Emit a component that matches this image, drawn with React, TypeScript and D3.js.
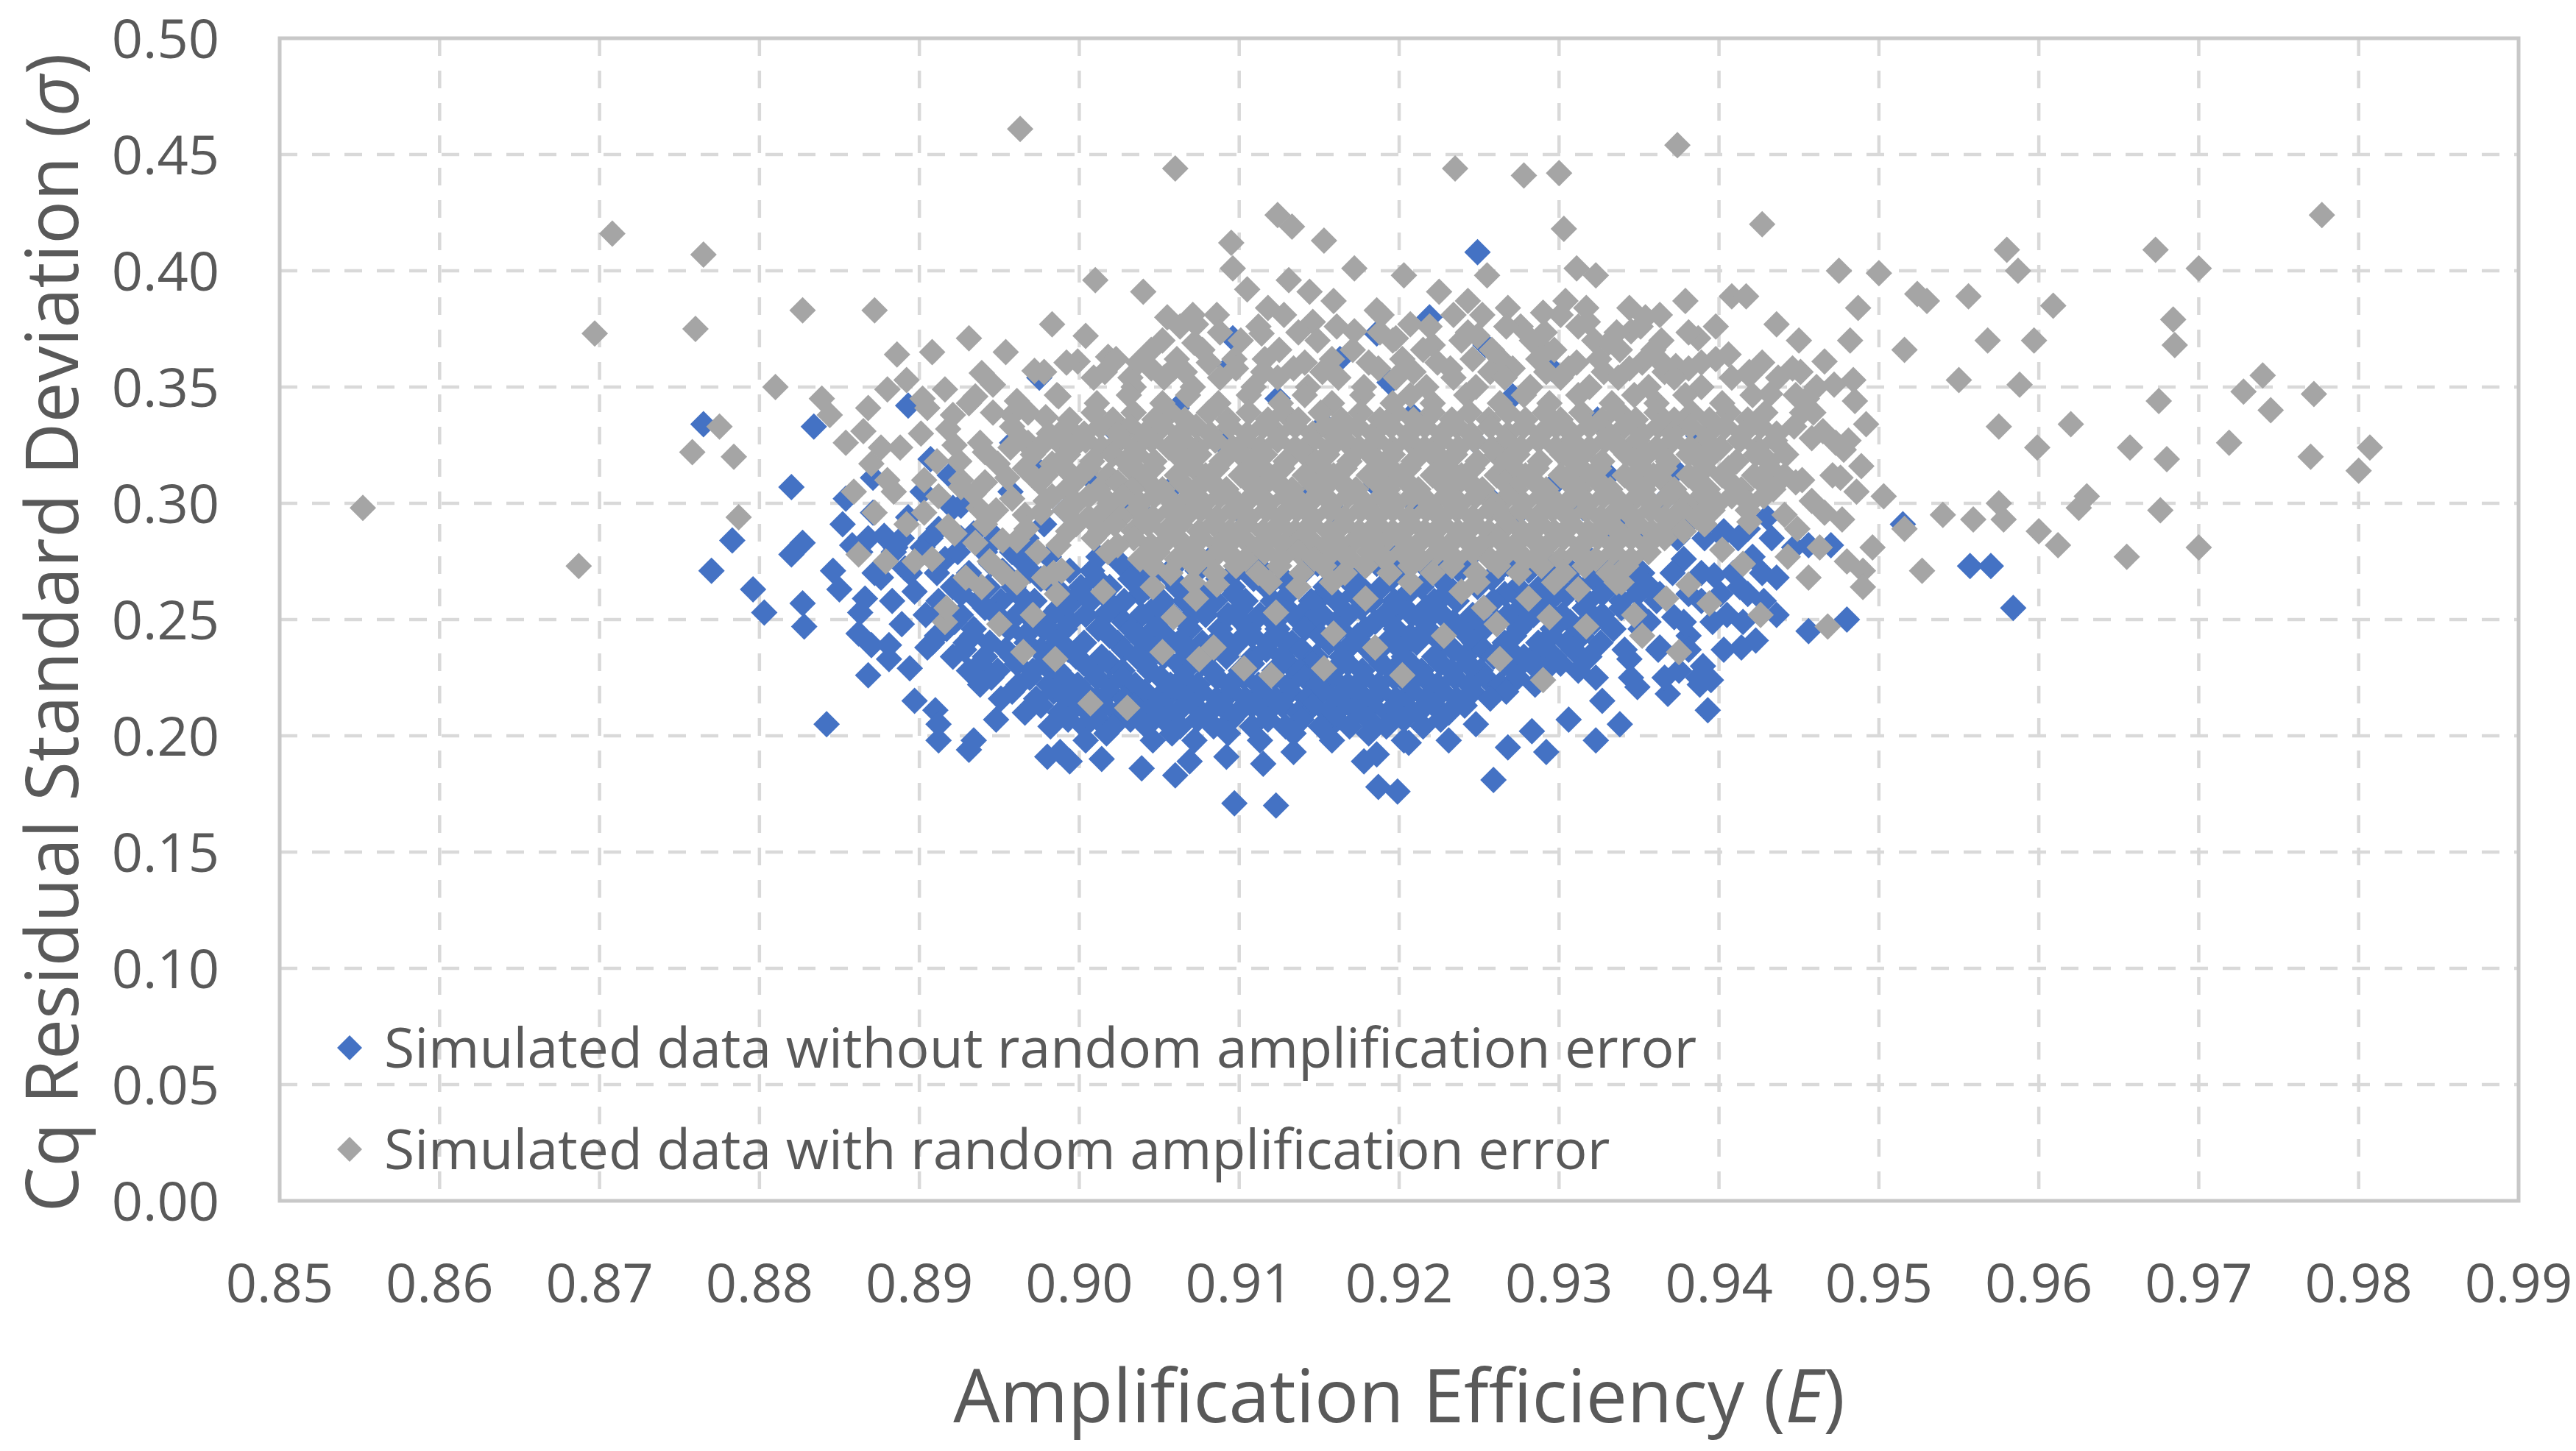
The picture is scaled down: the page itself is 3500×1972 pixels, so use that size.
import React, { useEffect, useRef } from 'react';
import * as d3 from 'd3';

// [efficiency, sigma] pairs (scattered parts)
const withoutError: [number, number][] = [
  [0.8765, 0.334], [0.877, 0.271], [0.8783, 0.284], [0.8796, 0.263], [0.8803, 0.253],
  [0.882, 0.307], [0.882, 0.278], [0.8827, 0.283], [0.8827, 0.257], [0.8828, 0.247],
  [0.8834, 0.333], [0.8842, 0.205], [0.8846, 0.271], [0.885, 0.263], [0.8854, 0.302],
  [0.8862, 0.244], [0.887, 0.239], [0.8881, 0.233], [0.8893, 0.342], [0.891, 0.211],
  [0.8912, 0.198], [0.8931, 0.194], [0.8975, 0.354], [0.898, 0.191], [0.8994, 0.189],
  [0.9014, 0.19], [0.906, 0.183], [0.9097, 0.171], [0.9123, 0.17], [0.9092, 0.191],
  [0.9115, 0.188], [0.9187, 0.178], [0.9199, 0.176], [0.9186, 0.192], [0.9206, 0.197],
  [0.9259, 0.181], [0.9268, 0.195], [0.9292, 0.193], [0.9323, 0.198], [0.9338, 0.205],
  [0.9393, 0.211], [0.9388, 0.222], [0.939, 0.23], [0.9249, 0.408], [0.9219, 0.38],
  [0.9186, 0.373], [0.9094, 0.359], [0.948, 0.25], [0.9456, 0.245], [0.9456, 0.282],
  [0.947, 0.282], [0.9515, 0.291], [0.9557, 0.273], [0.957, 0.273], [0.9584, 0.255],
  [0.943, 0.294], [0.9418, 0.289], [0.9403, 0.288],
  [0.8876, 0.268], [0.8885, 0.281], [0.8893, 0.294], [0.8871, 0.296], [0.8902, 0.305],
  [0.8919, 0.312], [0.8912, 0.289], [0.8926, 0.299], [0.8957, 0.305], [0.8975, 0.314],
  [0.8991, 0.297], [0.9007, 0.311], [0.9028, 0.302], [0.9044, 0.293], [0.9061, 0.309],
  [0.9098, 0.298], [0.9117, 0.311], [0.9142, 0.303], [0.9161, 0.296], [0.9185, 0.308],
  [0.9211, 0.299], [0.9233, 0.311], [0.9257, 0.302], [0.9275, 0.296], [0.9298, 0.309],
  [0.9315, 0.298], [0.9331, 0.312], [0.9352, 0.321], [0.9373, 0.314], [0.9247, 0.327],
  [0.9208, 0.338], [0.9153, 0.334], [0.9088, 0.327], [0.9022, 0.331], [0.8958, 0.326],
  [0.8907, 0.319], [0.9271, 0.346], [0.9194, 0.352], [0.9124, 0.345], [0.9061, 0.341],
  [0.9324, 0.336], [0.9387, 0.329], [0.9295, 0.358], [0.9254, 0.368], [0.9163, 0.362],
  [0.9096, 0.371], [0.8863, 0.253], [0.8881, 0.239], [0.8868, 0.226], [0.8897, 0.215],
  [0.8912, 0.205], [0.8934, 0.198], [0.8948, 0.207], [0.8988, 0.193], [0.9039, 0.186],
  [0.9069, 0.189], [0.9134, 0.193], [0.9178, 0.189], [0.9231, 0.198], [0.9248, 0.205],
  [0.9283, 0.202], [0.9306, 0.207], [0.9327, 0.215], [0.9349, 0.221], [0.9375, 0.228],
  [0.9423, 0.241], [0.9436, 0.252], [0.9341, 0.272], [0.9358, 0.263], [0.9372, 0.251],
  [0.9381, 0.243], [0.9389, 0.258], [0.9397, 0.269], [0.9378, 0.276], [0.9405, 0.252],
  [0.9413, 0.264], [0.9421, 0.277], [0.9402, 0.286], [0.9384, 0.294], [0.9365, 0.301],
  [0.9344, 0.293], [0.9428, 0.258], [0.9436, 0.268], [0.9447, 0.281], [0.9414, 0.238],
  [0.9395, 0.224], [0.9368, 0.218], [0.9363, 0.238], [0.9351, 0.246], [0.9344, 0.233],
  [0.8883, 0.258], [0.8891, 0.272], [0.8878, 0.286], [0.8902, 0.281], [0.8897, 0.262],
  [0.8889, 0.248], [0.8905, 0.238], [0.8871, 0.311], [0.8894, 0.229], [0.8916, 0.276],
  [0.8934, 0.287], [0.8945, 0.274], [0.8921, 0.298], [0.8961, 0.281], [0.8978, 0.291],
  [0.8858, 0.282], [0.8852, 0.291], [0.8866, 0.259],
];

// dense blue cloud: [sigma, efficiencies...] rows
const withoutErrorRows: [number, number[]][] = [
  [0.285, [0.8868, 0.8889, 0.8907, 0.8926, 0.8948, 0.8967, 0.9335, 0.9356, 0.9374, 0.9391, 0.9412, 0.9433]],
  [0.279, [0.8863, 0.8884, 0.8903, 0.8924, 0.8941, 0.8958]],
  [0.277, [0.8981, 0.9012, 0.9044, 0.9083, 0.9127, 0.9165, 0.9198, 0.9244, 0.9289, 0.9318]],
  [0.274, [0.8966, 0.9026, 0.9061, 0.9108, 0.9149, 0.9186, 0.9227, 0.9268, 0.9301, 0.9334]],
  [0.271, [0.8952, 0.8969, 0.8994, 0.9008, 0.9037, 0.9049, 0.9074, 0.9098, 0.9115, 0.9141, 0.9158, 0.9172, 0.9201, 0.9219, 0.9238, 0.9262, 0.9281, 0.9307, 0.9322, 0.9347]],
  [0.27, [0.8872, 0.8894, 0.8911, 0.8931, 0.9352, 0.9371, 0.9389, 0.9409, 0.9427]],
  [0.2675, [0.8932, 0.8976, 0.9011, 0.9032, 0.9058, 0.9087, 0.9109, 0.9128, 0.9167, 0.9195, 0.9226, 0.9258, 0.9296, 0.9322, 0.9343]],
  [0.264, [0.8921, 0.8943, 0.8959, 0.8985, 0.9001, 0.9019, 0.9043, 0.9061, 0.9072, 0.9096, 0.9117, 0.9132, 0.9154, 0.9176, 0.9189, 0.9214, 0.9231, 0.9249, 0.9274, 0.9288, 0.9312, 0.9331, 0.9356]],
  [0.261, [0.8926, 0.8962, 0.8989, 0.9015, 0.9038, 0.9078, 0.9097, 0.9131, 0.9153, 0.9172, 0.9205, 0.9229, 0.9266, 0.9284, 0.9305, 0.9327, 0.9349, 0.9363, 0.9381, 0.9401, 0.9418]],
  [0.258, [0.8912, 0.8937, 0.8951, 0.8972, 0.8996, 0.9007, 0.9028, 0.9052, 0.9066, 0.9085, 0.9104, 0.9121, 0.9145, 0.9161, 0.9183, 0.9197, 0.9222, 0.9236, 0.9259, 0.9277, 0.9294, 0.9318, 0.9339, 0.9361]],
  [0.255, [0.8915, 0.8941, 0.8967, 0.8987, 0.9022, 0.9047, 0.9072, 0.9101, 0.9124, 0.9143, 0.9176, 0.9201, 0.9217, 0.9253, 0.9276, 0.9291, 0.9316, 0.9339]],
  [0.252, [0.8904, 0.8926, 0.8948, 0.8961, 0.8983, 0.9004, 0.9016, 0.9039, 0.9058, 0.9079, 0.9093, 0.9113, 0.9134, 0.9152, 0.9168, 0.9191, 0.9208, 0.9227, 0.9246, 0.9268, 0.9284, 0.9302, 0.9327, 0.9351]],
  [0.249, [0.8922, 0.8953, 0.8972, 0.8994, 0.9028, 0.9049, 0.9067, 0.9102, 0.9122, 0.9144, 0.9161, 0.9185, 0.9216, 0.9234, 0.9261, 0.9279, 0.9307, 0.9322, 0.9356, 0.9378, 0.9396, 0.9415]],
  [0.246, [0.8917, 0.8934, 0.8956, 0.8978, 0.8991, 0.9012, 0.9033, 0.9047, 0.9069, 0.9088, 0.9106, 0.9124, 0.9141, 0.9163, 0.9179, 0.9198, 0.9217, 0.9239, 0.9253, 0.9275, 0.9296, 0.9313, 0.9334]],
  [0.243, [0.8911, 0.8933, 0.8966, 0.8985, 0.9019, 0.9036, 0.9054, 0.9089, 0.9108, 0.9125, 0.9151, 0.9174, 0.9207, 0.9222, 0.9243, 0.9272, 0.9295, 0.9314]],
  [0.24, [0.8908, 0.8929, 0.8944, 0.8967, 0.8986, 0.9003, 0.9024, 0.9041, 0.9062, 0.9077, 0.9099, 0.9118, 0.9133, 0.9156, 0.9171, 0.9192, 0.9211, 0.9229, 0.9247, 0.9266, 0.9287, 0.9305, 0.9326]],
  [0.237, [0.8928, 0.8954, 0.8976, 0.8993, 0.9028, 0.9047, 0.9069, 0.9084, 0.9117, 0.9139, 0.9167, 0.9181, 0.9201, 0.9234, 0.9253, 0.9269, 0.9288, 0.9309, 0.9341, 0.9362, 0.9381, 0.9403]],
  [0.234, [0.8921, 0.8941, 0.8958, 0.8979, 0.8998, 0.9014, 0.9036, 0.9053, 0.9071, 0.9092, 0.9109, 0.9127, 0.9148, 0.9164, 0.9185, 0.9203, 0.9222, 0.9241, 0.9259, 0.9278, 0.9297, 0.9319]],
  [0.231, [0.8938, 0.8961, 0.8978, 0.9003, 0.9019, 0.9041, 0.9062, 0.9077, 0.9108, 0.9131, 0.9146, 0.9168, 0.9189, 0.9207, 0.9226, 0.9243, 0.9266, 0.9283, 0.9301]],
  [0.228, [0.8931, 0.8949, 0.8971, 0.8987, 0.9008, 0.9027, 0.9044, 0.9066, 0.9083, 0.9101, 0.9122, 0.9138, 0.9159, 0.9177, 0.9196, 0.9214, 0.9233, 0.9251, 0.9272, 0.9291, 0.9312]],
  [0.225, [0.8945, 0.8969, 0.8991, 0.9011, 0.9027, 0.9051, 0.9065, 0.9086, 0.9103, 0.9122, 0.9141, 0.9158, 0.9178, 0.9197, 0.9216, 0.9235, 0.9254, 0.9274, 0.9323, 0.9345, 0.9366, 0.9387]],
  [0.222, [0.8938, 0.8962, 0.8981, 0.8999, 0.9019, 0.9035, 0.9057, 0.9074, 0.9094, 0.9112, 0.9131, 0.9149, 0.9168, 0.9187, 0.9206, 0.9224, 0.9244, 0.9263, 0.9285]],
  [0.219, [0.8958, 0.8984, 0.9003, 0.9019, 0.9041, 0.9058, 0.9076, 0.9095, 0.9114, 0.9132, 0.9152, 0.9171, 0.9188, 0.9208, 0.9227, 0.9246, 0.9267]],
  [0.216, [0.8951, 0.8973, 0.8992, 0.9011, 0.9028, 0.9049, 0.9067, 0.9086, 0.9104, 0.9123, 0.9142, 0.9161, 0.9179, 0.9198, 0.9217, 0.9236, 0.9257]],
  [0.213, [0.8976, 0.8998, 0.9015, 0.9034, 0.9052, 0.9072, 0.9089, 0.9108, 0.9127, 0.9146, 0.9165, 0.9183, 0.9204, 0.9222, 0.9241]],
  [0.21, [0.8966, 0.8988, 0.9006, 0.9024, 0.9043, 0.9061, 0.9081, 0.9099, 0.9117, 0.9137, 0.9155, 0.9174, 0.9193, 0.9212, 0.9231]],
  [0.207, [0.8993, 0.9012, 0.9032, 0.9053, 0.9074, 0.9095, 0.9118, 0.9139, 0.9161, 0.9181, 0.9203, 0.9226]],
  [0.204, [0.8982, 0.9003, 0.9021, 0.9042, 0.9063, 0.9084, 0.9108, 0.9129, 0.9151, 0.9169, 0.9192, 0.9215]],
  [0.201, [0.9017, 0.9058, 0.9093, 0.9134, 0.9181]],
  [0.198, [0.9004, 0.9046, 0.9072, 0.9113, 0.9158, 0.9203]],
];

const withError: [number, number][] = [
  [0.8552, 0.298], [0.8697, 0.373], [0.8708, 0.416], [0.8687, 0.273], [0.8765, 0.407],
  [0.876, 0.375], [0.8758, 0.322], [0.8775, 0.333], [0.8784, 0.32], [0.8787, 0.294],
  [0.881, 0.35], [0.8827, 0.383], [0.8872, 0.383], [0.8963, 0.461], [0.906, 0.444],
  [0.9235, 0.444], [0.9278, 0.441], [0.93, 0.442], [0.9374, 0.454], [0.9427, 0.42],
  [0.9303, 0.418], [0.958, 0.409], [0.9673, 0.409], [0.9777, 0.424], [0.97, 0.401],
  [0.9609, 0.385], [0.9587, 0.4], [0.9475, 0.4], [0.95, 0.399], [0.9684, 0.379],
  [0.9685, 0.368], [0.9597, 0.37], [0.9675, 0.344], [0.9728, 0.348], [0.974, 0.355],
  [0.9772, 0.347], [0.9745, 0.34], [0.9719, 0.326], [0.9807, 0.324], [0.98, 0.314],
  [0.977, 0.32], [0.968, 0.319], [0.9676, 0.297], [0.97, 0.281], [0.9655, 0.277],
  [0.9657, 0.324], [0.963, 0.303], [0.9625, 0.298], [0.9612, 0.282], [0.96, 0.288],
  [0.962, 0.334], [0.9599, 0.324], [0.9575, 0.333], [0.9588, 0.351], [0.9568, 0.37],
  [0.9556, 0.389], [0.9524, 0.39], [0.9516, 0.366], [0.953, 0.387], [0.955, 0.353],
  [0.9575, 0.3], [0.9578, 0.293], [0.9559, 0.293], [0.954, 0.295], [0.9527, 0.271],
  [0.9503, 0.303], [0.9516, 0.289], [0.9496, 0.281], [0.949, 0.271], [0.9489, 0.316],
  [0.9473, 0.326], [0.9468, 0.247], [0.949, 0.264], [0.948, 0.275],
  [0.9007, 0.214], [0.903, 0.212], [0.9202, 0.226], [0.9228, 0.243], [0.9263, 0.233],
  [0.929, 0.224], [0.9317, 0.247], [0.9352, 0.243], [0.9375, 0.236], [0.912, 0.226],
  [0.9153, 0.229], [0.9075, 0.233], [0.9103, 0.229], [0.895, 0.248], [0.8916, 0.249],
  [0.8939, 0.264], [0.8978, 0.268], [0.8985, 0.233],
  [0.8886, 0.364], [0.8908, 0.365], [0.8931, 0.371], [0.8954, 0.365], [0.8983, 0.377],
  [0.901, 0.396], [0.904, 0.391], [0.9055, 0.38], [0.9073, 0.377], [0.9095, 0.412],
  [0.9096, 0.401], [0.9114, 0.373], [0.9124, 0.424], [0.9133, 0.419], [0.9153, 0.413],
  [0.9144, 0.391], [0.9172, 0.401], [0.9203, 0.398], [0.9225, 0.391], [0.9243, 0.387],
  [0.9255, 0.398], [0.9268, 0.384], [0.929, 0.382], [0.9311, 0.401], [0.9323, 0.398],
  [0.9317, 0.384], [0.9344, 0.384], [0.9354, 0.38], [0.9379, 0.387], [0.9408, 0.389],
  [0.9417, 0.389], [0.9436, 0.377], [0.945, 0.37], [0.9466, 0.361], [0.9482, 0.37],
  [0.9487, 0.384], [0.9455, 0.345],
  [0.8839, 0.345], [0.8844, 0.338], [0.8854, 0.326], [0.8865, 0.331], [0.887, 0.317],
  [0.888, 0.31], [0.8872, 0.296], [0.888, 0.349], [0.8888, 0.324], [0.8901, 0.33],
  [0.8859, 0.305], [0.8892, 0.291], [0.8897, 0.275], [0.8862, 0.278], [0.8926, 0.31],
  [0.8916, 0.349], [0.8939, 0.356],
  [0.8892, 0.353], [0.8905, 0.341], [0.8918, 0.332], [0.8931, 0.343], [0.8946, 0.351],
  [0.8958, 0.338], [0.8972, 0.357], [0.8987, 0.346], [0.8999, 0.361], [0.8911, 0.318],
  [0.8926, 0.307], [0.8941, 0.322], [0.8955, 0.311], [0.8968, 0.326], [0.8983, 0.317],
  [0.8995, 0.331], [0.8903, 0.296], [0.8922, 0.287], [0.8937, 0.298], [0.8952, 0.284],
  [0.8966, 0.295], [0.8979, 0.301], [0.8993, 0.288], [0.8908, 0.276], [0.8929, 0.268],
  [0.8944, 0.275], [0.8961, 0.266], [0.8974, 0.279], [0.8989, 0.271], [0.8917, 0.255],
  [0.8971, 0.252], [0.8986, 0.261], [0.8965, 0.236], [0.8876, 0.324], [0.8868, 0.341],
  [0.8884, 0.305], [0.8879, 0.275], [0.8912, 0.303], [0.8934, 0.304], [0.8958, 0.302],
  [0.8918, 0.29], [0.8941, 0.291], [0.8967, 0.289], [0.8925, 0.318], [0.8949, 0.317],
  [0.8902, 0.345], [0.8935, 0.346], [0.8961, 0.344],
  [0.8935, 0.283], [0.8961, 0.284], [0.8987, 0.282], [0.8948, 0.297], [0.8976, 0.296],
  [0.8903, 0.31], [0.8941, 0.309], [0.8972, 0.311], [0.8922, 0.325], [0.8938, 0.326],
  [0.8957, 0.324], [0.8921, 0.338], [0.8946, 0.339], [0.8979, 0.337], [0.8952, 0.27],
  [0.8984, 0.27],
  [0.9004, 0.372], [0.9018, 0.363], [0.9032, 0.354], [0.9045, 0.366], [0.9059, 0.358],
  [0.9072, 0.369], [0.9086, 0.381], [0.9097, 0.362], [0.9105, 0.392], [0.9118, 0.384],
  [0.9131, 0.396], [0.9146, 0.378], [0.9159, 0.387], [0.9172, 0.374], [0.9186, 0.383],
  [0.9198, 0.371], [0.9207, 0.377], [0.9221, 0.368], [0.9234, 0.381], [0.9249, 0.372],
  [0.9262, 0.363], [0.9276, 0.376], [0.9289, 0.367], [0.9304, 0.387], [0.9318, 0.378],
  [0.9331, 0.369], [0.9345, 0.374], [0.9359, 0.366], [0.9373, 0.359], [0.9387, 0.371],
  [0.9406, 0.364], [0.9419, 0.355], [0.9432, 0.347], [0.9446, 0.358], [0.9459, 0.339],
  [0.9472, 0.351], [0.9485, 0.344], [0.9465, 0.331], [0.9478, 0.323], [0.9492, 0.334],
  [0.9458, 0.301], [0.9471, 0.312], [0.9486, 0.305], [0.9449, 0.289], [0.9463, 0.281],
  [0.9477, 0.293], [0.9415, 0.274], [0.9443, 0.277], [0.9456, 0.268], [0.9426, 0.252],
  [0.9461, 0.35], [0.9484, 0.353], [0.9458, 0.328], [0.9481, 0.327], [0.9452, 0.31],
  [0.9476, 0.311], [0.9441, 0.295], [0.9466, 0.296],
  [0.9015, 0.262], [0.9046, 0.264], [0.9059, 0.251], [0.9073, 0.259], [0.9086, 0.265],
  [0.9052, 0.236], [0.9084, 0.238], [0.9123, 0.253], [0.9137, 0.264], [0.9179, 0.259],
  [0.9159, 0.244], [0.9185, 0.238], [0.9239, 0.262], [0.9253, 0.255], [0.9281, 0.259],
  [0.9294, 0.251], [0.9261, 0.248], [0.9312, 0.263], [0.9339, 0.266], [0.9367, 0.259],
  [0.9381, 0.265], [0.9394, 0.257], [0.9347, 0.252], [0.9402, 0.28], [0.9419, 0.292],
];

// dense gray cloud: [sigma, efficiencies...] rows
const withErrorRows: [number, number[]][] = [
  [0.381, [0.9071, 0.9128, 0.9189, 0.9252, 0.9301, 0.9363]],
  [0.376, [0.9063, 0.9112, 0.9161, 0.9219, 0.9267, 0.9312, 0.9351, 0.9398]],
  [0.3735, [0.9088, 0.9137, 0.9188, 0.9243, 0.9291, 0.9336, 0.9381]],
  [0.37, [0.9052, 0.9101, 0.9149, 0.9196, 0.9239, 0.9283, 0.9322, 0.9364]],
  [0.366, [0.9077, 0.9125, 0.9171, 0.9215, 0.9258, 0.9297, 0.9338]],
  [0.362, [0.9023, 0.9061, 0.9116, 0.9158, 0.9202, 0.9246, 0.9287, 0.9325, 0.9362, 0.9398]],
  [0.3605, [0.8992, 0.9037, 0.9081, 0.9141, 0.9181, 0.9224, 0.9263, 0.9311, 0.9352, 0.9389, 0.9427]],
  [0.358, [0.9045, 0.9098, 0.9134, 0.9187, 0.9232, 0.9271, 0.9306, 0.9344, 0.9381]],
  [0.3565, [0.8978, 0.9016, 0.9066, 0.9115, 0.9152, 0.9209, 0.9257, 0.9292, 0.9328, 0.9366, 0.9419, 0.9451]],
  [0.354, [0.9009, 0.9053, 0.9088, 0.9124, 0.9162, 0.9198, 0.9234, 0.9266, 0.9301, 0.9337, 0.9372, 0.9408, 0.9437]],
  [0.35, [0.9034, 0.9071, 0.9109, 0.9143, 0.9178, 0.9217, 0.9248, 0.9282, 0.9319, 0.9356, 0.9389]],
  [0.3465, [0.8986, 0.9031, 0.9068, 0.9106, 0.9141, 0.9177, 0.9207, 0.9242, 0.9278, 0.9312, 0.9347, 0.9379, 0.9421, 0.9448]],
  [0.343, [0.9011, 0.9052, 0.9087, 0.9126, 0.9158, 0.9196, 0.9221, 0.9263, 0.9294, 0.9333, 0.9361, 0.9402]],
  [0.339, [0.8968, 0.9009, 0.9034, 0.9057, 0.9081, 0.9106, 0.9128, 0.9151, 0.9176, 0.9198, 0.9221, 0.9244, 0.9268, 0.9291, 0.9314, 0.9338, 0.9361, 0.9383, 0.9406, 0.9429, 0.9452]],
  [0.336, [0.8994, 0.9021, 0.9047, 0.9066, 0.9093, 0.9118, 0.9137, 0.9164, 0.9188, 0.9209, 0.9233, 0.9256, 0.9279, 0.9301, 0.9327, 0.9348, 0.9372, 0.9394, 0.9418]],
  [0.333, [0.8958, 0.8992, 0.9013, 0.9032, 0.9052, 0.9073, 0.9094, 0.9115, 0.9135, 0.9154, 0.9174, 0.9195, 0.9216, 0.9236, 0.9257, 0.9278, 0.9298, 0.9319, 0.9341, 0.9362, 0.9382, 0.9404, 0.9426, 0.9447]],
  [0.33, [0.8981, 0.9003, 0.9024, 0.9041, 0.9063, 0.9082, 0.9105, 0.9124, 0.9146, 0.9163, 0.9184, 0.9206, 0.9227, 0.9245, 0.9268, 0.9289, 0.9308, 0.9331, 0.9352, 0.9371, 0.9393, 0.9415, 0.9436]],
  [0.327, [0.8965, 0.8986, 0.9004, 0.9025, 0.9045, 0.9065, 0.9085, 0.9104, 0.9124, 0.9146, 0.9166, 0.9186, 0.9206, 0.9226, 0.9247, 0.9267, 0.9287, 0.9308, 0.9329, 0.9349, 0.9371, 0.9392, 0.9413, 0.9435]],
  [0.324, [0.8975, 0.8996, 0.9014, 0.9035, 0.9056, 0.9074, 0.9096, 0.9113, 0.9135, 0.9157, 0.9175, 0.9196, 0.9216, 0.9237, 0.9258, 0.9276, 0.9298, 0.9319, 0.9338, 0.9361, 0.9382, 0.9401, 0.9424]],
  [0.321, [0.8971, 0.8993, 0.9021, 0.9036, 0.9061, 0.9075, 0.9101, 0.9116, 0.9141, 0.9155, 0.9182, 0.9196, 0.9221, 0.9235, 0.9261, 0.9274, 0.9302, 0.9315, 0.9342, 0.9355, 0.9381, 0.9396, 0.9423, 0.9442]],
  [0.318, [0.8988, 0.9008, 0.9029, 0.9047, 0.9068, 0.9089, 0.9108, 0.9129, 0.9148, 0.9169, 0.9187, 0.9209, 0.9228, 0.9249, 0.9267, 0.9288, 0.9309, 0.9327, 0.9349, 0.9368, 0.9389, 0.9411, 0.9431]],
  [0.315, [0.8966, 0.8991, 0.9006, 0.9032, 0.9046, 0.9072, 0.9086, 0.9112, 0.9127, 0.9152, 0.9166, 0.9192, 0.9206, 0.9231, 0.9246, 0.9272, 0.9286, 0.9311, 0.9325, 0.9352, 0.9366, 0.9391, 0.9406, 0.9432]],
  [0.312, [0.8979, 0.9001, 0.9018, 0.9039, 0.9061, 0.9079, 0.9101, 0.9119, 0.9141, 0.9159, 0.9181, 0.9199, 0.9221, 0.9239, 0.9261, 0.9279, 0.9301, 0.9318, 0.9341, 0.9359, 0.9381, 0.9402, 0.9422, 0.9441]],
  [0.309, [0.8975, 0.8997, 0.9024, 0.9043, 0.9064, 0.9083, 0.9106, 0.9124, 0.9145, 0.9164, 0.9186, 0.9205, 0.9226, 0.9244, 0.9266, 0.9285, 0.9306, 0.9325, 0.9346, 0.9366, 0.9386, 0.9407, 0.9427, 0.9448]],
  [0.306, [0.8992, 0.9012, 0.9033, 0.9052, 0.9073, 0.9092, 0.9113, 0.9133, 0.9152, 0.9173, 0.9193, 0.9212, 0.9233, 0.9252, 0.9273, 0.9292, 0.9313, 0.9332, 0.9353, 0.9372, 0.9393, 0.9414, 0.9434]],
  [0.303, [0.8983, 0.9006, 0.9027, 0.9047, 0.9069, 0.9088, 0.9108, 0.9129, 0.9148, 0.9168, 0.9189, 0.9208, 0.9229, 0.9248, 0.9268, 0.9289, 0.9309, 0.9328, 0.9349, 0.9368, 0.9389, 0.9408, 0.9428]],
  [0.3, [0.8998, 0.9019, 0.9038, 0.9059, 0.9078, 0.9099, 0.9118, 0.9139, 0.9158, 0.9179, 0.9198, 0.9219, 0.9238, 0.9259, 0.9278, 0.9299, 0.9318, 0.9339, 0.9358, 0.9379, 0.9399, 0.9419]],
  [0.297, [0.8991, 0.9016, 0.9036, 0.9057, 0.9076, 0.9096, 0.9117, 0.9136, 0.9157, 0.9176, 0.9196, 0.9217, 0.9236, 0.9257, 0.9276, 0.9296, 0.9317, 0.9336, 0.9357, 0.9376, 0.9396, 0.9418]],
  [0.294, [0.9006, 0.9026, 0.9046, 0.9066, 0.9086, 0.9106, 0.9126, 0.9146, 0.9166, 0.9186, 0.9206, 0.9226, 0.9246, 0.9266, 0.9286, 0.9306, 0.9326, 0.9346, 0.9366, 0.9386]],
  [0.291, [0.8998, 0.9022, 0.9043, 0.9063, 0.9084, 0.9104, 0.9125, 0.9145, 0.9165, 0.9186, 0.9207, 0.9227, 0.9247, 0.9268, 0.9288, 0.9308, 0.9329, 0.9349, 0.9369, 0.9391]],
  [0.288, [0.9013, 0.9034, 0.9054, 0.9075, 0.9094, 0.9115, 0.9135, 0.9156, 0.9175, 0.9196, 0.9216, 0.9237, 0.9256, 0.9277, 0.9297, 0.9318, 0.9337, 0.9358, 0.9378]],
  [0.285, [0.9009, 0.9034, 0.9056, 0.9076, 0.9097, 0.9118, 0.9139, 0.9159, 0.9179, 0.9201, 0.9221, 0.9241, 0.9262, 0.9283, 0.9303, 0.9324, 0.9345, 0.9366]],
  [0.282, [0.9024, 0.9045, 0.9066, 0.9087, 0.9107, 0.9128, 0.9148, 0.9169, 0.9189, 0.9211, 0.9231, 0.9252, 0.9272, 0.9293, 0.9314, 0.9334, 0.9355]],
  [0.279, [0.9018, 0.9049, 0.9072, 0.9093, 0.9116, 0.9137, 0.9158, 0.9181, 0.9202, 0.9224, 0.9246, 0.9268, 0.9289, 0.9312, 0.9334, 0.9356]],
  [0.276, [0.9038, 0.9061, 0.9083, 0.9104, 0.9126, 0.9147, 0.9169, 0.9191, 0.9213, 0.9235, 0.9257, 0.9279, 0.9301, 0.9323, 0.9345]],
  [0.273, [0.9046, 0.9072, 0.9098, 0.9125, 0.9153, 0.9179, 0.9207, 0.9233, 0.9262, 0.9289, 0.9316, 0.9342]],
  [0.27, [0.9057, 0.9085, 0.9112, 0.9139, 0.9166, 0.9194, 0.9221, 0.9248, 0.9275, 0.9303, 0.9331]],
  [0.266, [0.9071, 0.9119, 0.9158, 0.9207, 0.9249, 0.9297, 0.9336]],
];

const xTicks = [0.85, 0.86, 0.87, 0.88, 0.89, 0.9, 0.91, 0.92, 0.93, 0.94, 0.95, 0.96, 0.97, 0.98, 0.99];
const yTicks = [0, 0.05, 0.1, 0.15, 0.2, 0.25, 0.3, 0.35, 0.4, 0.45, 0.5];

const seriesNames = [
  'Simulated data without random amplification error',
  'Simulated data with random amplification error',
];
const seriesColors = ['#4472C4', '#A5A5A5'];

const diamond = (h: number) => `M0,${-h}L${h},0L0,${h}L${-h},0Z`;

const fromRows = (rows: [number, number[]][]): [number, number][] =>
  rows.flatMap(([s, xs]) => xs.map((e) => [e, s] as [number, number]));

const App: React.FC = () => {
  const chartRef = useRef<SVGSVGElement | null>(null);

  useEffect(() => {
    const svg = d3.select(chartRef.current);
    svg.selectAll('*').remove();

    const W = 3500;
    const H = 1972;
    const margin = { top: 52, right: 78, bottom: 340, left: 380 };
    const width = W - margin.left - margin.right;
    const height = H - margin.top - margin.bottom;
    const font = '"Open Sans", "Noto Sans", sans-serif';
    const textColor = '#595959';

    svg.attr('width', W).attr('height', H);
    svg.append('rect').attr('width', W).attr('height', H).attr('fill', '#fff');

    const g = svg.append('g').attr('transform', `translate(${margin.left},${margin.top})`);

    const x = d3.scaleLinear().domain([0.85, 0.99]).range([0, width]);
    const y = d3.scaleLinear().domain([0, 0.5]).range([height, 0]);

    // dashed gridlines
    g.append('g')
      .selectAll('line')
      .data(xTicks.slice(1, -1))
      .enter()
      .append('line')
      .attr('x1', (d) => x(d))
      .attr('x2', (d) => x(d))
      .attr('y1', 0)
      .attr('y2', height)
      .attr('stroke', '#d9d9d9')
      .attr('stroke-width', 4.5)
      .attr('stroke-dasharray', '24,20');

    g.append('g')
      .selectAll('line')
      .data(yTicks.slice(1, -1))
      .enter()
      .append('line')
      .attr('x1', 0)
      .attr('x2', width)
      .attr('y1', (d) => y(d))
      .attr('y2', (d) => y(d))
      .attr('stroke', '#d9d9d9')
      .attr('stroke-width', 4.5)
      .attr('stroke-dasharray', '24,20');

    // plot frame
    g.append('rect')
      .attr('width', width)
      .attr('height', height)
      .attr('fill', 'none')
      .attr('stroke', '#c8c8c8')
      .attr('stroke-width', 5);

    // tick labels
    g.append('g')
      .selectAll('text')
      .data(xTicks)
      .enter()
      .append('text')
      .attr('x', (d) => x(d))
      .attr('y', height + 138)
      .attr('text-anchor', 'middle')
      .attr('font-family', font)
      .attr('font-size', 74)
      .attr('fill', textColor)
      .text((d) => d3.format('.2f')(d));

    g.append('g')
      .selectAll('text')
      .data(yTicks)
      .enter()
      .append('text')
      .attr('x', -82)
      .attr('y', (d) => y(d) + 27)
      .attr('text-anchor', 'end')
      .attr('font-family', font)
      .attr('font-size', 74)
      .attr('fill', textColor)
      .text((d) => d3.format('.2f')(d));

    // points, gray series drawn over blue
    const series = [
      withoutError.concat(fromRows(withoutErrorRows)),
      withError.concat(fromRows(withErrorRows)),
    ];
    series.forEach((pts, i) => {
      g.append('g')
        .selectAll('path')
        .data(pts)
        .enter()
        .append('path')
        .attr('transform', (d) => `translate(${x(d[0])},${y(d[1])})`)
        .attr('d', diamond(18))
        .attr('fill', seriesColors[i]);
    });

    // axis titles
    const xTitle = svg
      .append('text')
      .attr('x', margin.left + width / 2)
      .attr('y', 1933)
      .attr('text-anchor', 'middle')
      .attr('font-family', font)
      .attr('font-size', 100)
      .attr('fill', textColor);
    xTitle.append('tspan').text('Amplification Efficiency (');
    xTitle.append('tspan').attr('font-style', 'italic').text('E');
    xTitle.append('tspan').text(')');

    const yTitle = svg
      .append('text')
      .attr('transform', `translate(106,860) rotate(-90)`)
      .attr('text-anchor', 'middle')
      .attr('font-family', font)
      .attr('font-size', 98)
      .attr('fill', textColor);
    yTitle.append('tspan').text('Cq Residual Standard Deviation (');
    yTitle.append('tspan').attr('font-style', 'italic').text('σ');
    yTitle.append('tspan').text(')');

    // legend
    const legend = svg.append('g').attr('transform', 'translate(475,1424)');
    seriesNames.forEach((name, i) => {
      const row = legend.append('g').attr('transform', `translate(0,${i * 138})`);
      row.append('path').attr('d', diamond(17)).attr('fill', seriesColors[i]);
      row
        .append('text')
        .attr('x', 47)
        .attr('y', 27)
        .attr('font-family', font)
        .attr('font-size', 75)
        .attr('fill', textColor)
        .text(name);
    });
  }, []);

  return <svg ref={chartRef} style={{ position: 'absolute', left: 0, top: 0 }}></svg>;
};

export default App;
